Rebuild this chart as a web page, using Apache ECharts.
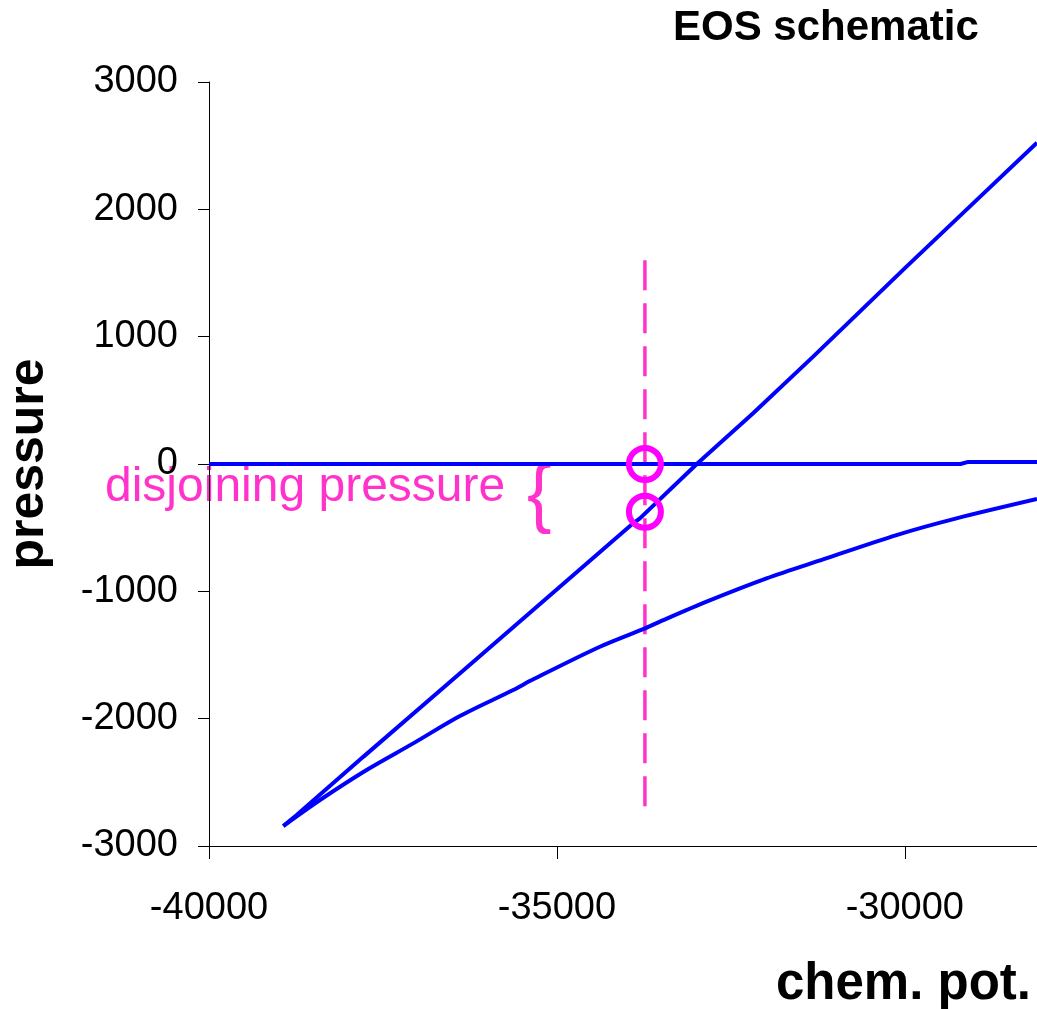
<!DOCTYPE html>
<html>
<head>
<meta charset="utf-8">
<script src="https://cdn.jsdelivr.net/npm/echarts@6/dist/echarts.min.js"></script>
<style>
  html, body { margin: 0; padding: 0; background: #fff; }
  #chart { width: 1037px; height: 1009px; }
</style>
</head>
<body>
<div id="chart"></div>
<script>
// 坐标轴刻度
const xTicks = [-40000, -35000, -30000]

// 零压力线（右端略有台阶）
const zeroX = [-40000, -29200, -29100, -28100]
const zeroY = [0, 0, 15, 15]

// 陡峭分支
const upperX = [-38932, -38740, -37783, -36346, -35388, -34335, -33904, -33807, -32970, -32180, -31317, -29976, -29018, -28100]
const upperY = [-2843, -2757, -2300, -1622, -1168, -669, -466, -427, 10, 398, 843, 1550, 2047, 2523]

// 下方曲线
const lowerX = [-38932, -38405, -37735, -37065, -36394, -35628, -35340, -34382, -33735, -33520, -32849, -31987, -31174, -30119, -29257, -28100]
const lowerY = [-2843, -2639, -2403, -2194, -1979, -1775, -1691, -1435, -1291, -1238, -1081, -898, -749, -558, -427, -275]

// 虚线与圆圈
const dashX = [-33735, -33735]
const dashY = [1600, -2730]
const circleX = [-33735, -33735]
const circleY = [0, -375]

const pairs = (xs, ys) => xs.map((x, i) => [x, ys[i]])

const FONT = 'Liberation Sans, Arial, sans-serif'
const PINK = '#ff33cc'

const chart = echarts.init(document.getElementById('chart'))

const lineSeries = (xs, ys, smooth) => ({
  type: 'line',
  data: pairs(xs, ys),
  showSymbol: false,
  smooth: smooth || false,
  lineStyle: {color: '#0000ff', width: 4},
  z: 2
})

chart.setOption({
  animation: false,
  title: {
    text: 'EOS schematic',
    left: 673,
    top: 7,
    padding: 0,
    textStyle: {fontFamily: FONT, fontSize: 42, fontWeight: 'bold', color: '#000'}
  },
  grid: {left: 209, top: 82, right: 0, bottom: 163, containLabel: false, outerBoundsMode: 'none'},
  xAxis: {
    type: 'value',
    min: -40000,
    max: -28100,
    interval: 5000,
    axisLine: {onZero: false, lineStyle: {color: '#000', width: 1}},
    axisTick: {show: true, length: 13, customValues: xTicks, lineStyle: {color: '#000'}},
    axisLabel: {customValues: xTicks, margin: 44, color: '#000', fontFamily: FONT, fontSize: 38, formatter: v => String(v)},
    splitLine: {show: false}
  },
  yAxis: {
    type: 'value',
    min: -3000,
    max: 3000,
    interval: 1000,
    name: 'pressure',
    nameLocation: 'middle',
    nameGap: 155,
    nameRotate: 90,
    nameTextStyle: {fontFamily: FONT, fontSize: 50, fontWeight: 'bold', color: '#000'},
    axisLine: {show: true, onZero: false, lineStyle: {color: '#000', width: 1}},
    axisTick: {show: true, length: 11, lineStyle: {color: '#000'}},
    axisLabel: {margin: 31, color: '#000', fontFamily: FONT, fontSize: 38, formatter: v => String(v)},
    splitLine: {show: false}
  },
  series: [
    lineSeries(zeroX, zeroY),
    lineSeries(upperX, upperY),
    lineSeries(lowerX, lowerY, 0.3),
    {
      type: 'line',
      data: pairs(dashX, dashY),
      showSymbol: false,
      lineStyle: {color: PINK, width: 3.5, type: [30, 13]},
      z: 1
    },
    {
      type: 'scatter',
      data: pairs(circleX, circleY),
      symbol: 'circle',
      symbolSize: 32,
      itemStyle: {color: 'rgba(0,0,0,0)', borderColor: '#ff00ff', borderWidth: 6, opacity: 1},
      z: 3
    }
  ],
  graphic: [
    {
      type: 'text',
      x: 105,
      y: 488,
      style: {text: 'disjoining pressure', fill: PINK, font: '48px ' + FONT, textVerticalAlign: 'middle'}
    },
    {
      type: 'text',
      x: 527,
      y: 497,
      scaleX: 1.6,
      scaleY: 1.65,
      style: {text: '{', fill: PINK, font: '46px ' + FONT, textVerticalAlign: 'middle'}
    },
    {
      type: 'text',
      x: 1031,
      y: 985,
      style: {text: 'chem. pot.', fill: '#000', font: 'bold 51px ' + FONT, textAlign: 'right', textVerticalAlign: 'middle'}
    }
  ]
})

window.addEventListener('resize', () => chart.resize())
</script>
</body>
</html>
